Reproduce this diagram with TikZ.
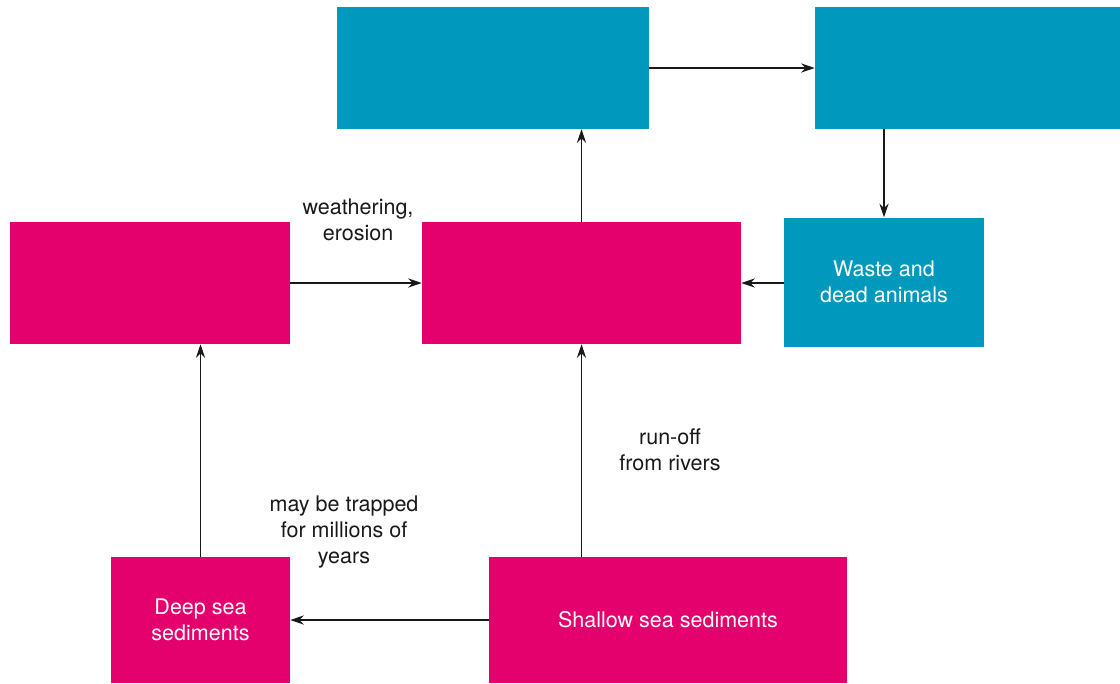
\documentclass[tikz,border=0pt]{standalone}
\usepackage{fontspec}
\setmainfont{TeX Gyre Heros}
\usetikzlibrary{positioning, arrows.meta}
\usepackage{xcolor}
\definecolor{pinkbox}{HTML}{E4006D}
\definecolor{bluebox}{HTML}{0099BE}

\begin{document}
\begin{tikzpicture}[font=\fontsize{15.3}{18.5}\selectfont]
\tikzstyle{pink} = [rectangle, fill=pinkbox, text=white, align=center, inner sep=0pt]
\tikzstyle{blue} = [rectangle, fill=bluebox, text=white, align=center, inner sep=0pt]
\tikzstyle{line} = [draw, line width=0.8pt, black!90, -{Stealth[length=3.4mm, width=2.3mm]}]
\tikzstyle{note} = [align=center, text=black!90]

\useasboundingbox (0,0) rectangle (28,-17.075);

\node (top1) [blue, minimum width=7.8cm, minimum height=3.05cm] at (12.325,-1.7) {};
\node (top2) [blue, minimum width=7.625cm, minimum height=3.05cm] at (24.1875,-1.7) {};
\node (waste) [blue, minimum width=5cm, minimum height=3.225cm] at (22.1,-7.05) {Waste and\\dead animals};
\node (rock) [pink, minimum width=7cm, minimum height=3.05cm] at (3.75,-7.075) {};
\node (pool) [pink, minimum width=7.975cm, minimum height=3.05cm] at (14.5375,-7.075) {};
\node (deep) [pink, minimum width=4.475cm, minimum height=3.15cm] at (5.0125,-15.5) {Deep sea\\sediments};
\node (shallow) [pink, minimum width=8.95cm, minimum height=3.15cm] at (16.7,-15.5) {Shallow sea sediments};

\node (lab1) [note] at (8.95,-5.5) {weathering,\\erosion};
\node (lab2) [note] at (16.75,-11.25) {run-off\\from rivers};
\node (lab3) [note] at (8.6,-13.3) {may be trapped\\for millions of\\years};

\path[line] (top1) -- (top2);
\path[line] (waste.north |- top2.south) -- (waste.north);
\path[line] (waste.west |- pool.east) -- (pool.east);
\path[line] (rock) -- (pool);
\path[line] (pool.north) -- (pool.north |- top1.south);
\path[line] (shallow.north -| pool.south) -- (pool.south);
\path[line] (shallow.west |- deep.east) -- (deep.east);
\path[line] (deep.north) -- (deep.north |- rock.south);
\end{tikzpicture}
\end{document}
